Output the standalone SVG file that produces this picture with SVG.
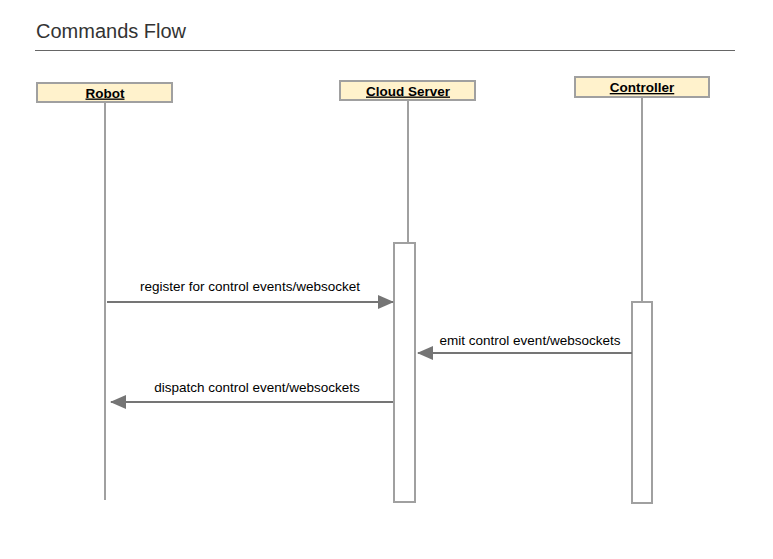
<svg xmlns="http://www.w3.org/2000/svg" width="773" height="559" viewBox="0 0 773 559">
<defs>
<style>
.hdr{fill:#fff2cc;stroke:#a0a0a0;stroke-width:2}
.hdrt{font-family:"Liberation Sans",Arial,sans-serif;font-size:13.5px;font-weight:bold;text-anchor:middle;text-decoration:underline;fill:#000}
.life{stroke:#a0a0a0;stroke-width:2;fill:none}
.act{fill:#fff;stroke:#a0a0a0;stroke-width:2}
.msg{stroke:#757575;stroke-width:2;fill:none}
.lbl{font-family:"Liberation Sans",Arial,sans-serif;font-size:13.5px;text-anchor:middle;fill:#000}
</style>
<marker id="ah2" markerWidth="16" markerHeight="14" refX="15" refY="7" orient="auto" markerUnits="userSpaceOnUse" viewBox="0 0 16 14">
<path d="M0,0 L16,7 L0,14 Z" fill="#757575"/>
</marker>
</defs>
<rect width="773" height="559" fill="#fff"/>
<g id="title">
<text x="36" y="38" font-family="'Liberation Sans',Arial,sans-serif" font-size="20" fill="#333">Commands Flow</text>
<line x1="35" y1="50.5" x2="735" y2="50.5" stroke="#666" stroke-width="1.2"/>
</g>
<g id="robot">
<line class="life" x1="105" y1="102" x2="105" y2="500"/>
<rect class="hdr" x="37" y="83" width="135" height="19"/>
<text class="hdrt" x="105" y="97.5">Robot</text>
</g>
<g id="cloud">
<line class="life" x1="408" y1="100" x2="408" y2="243"/>
<rect class="hdr" x="340" y="81" width="135" height="19"/>
<text class="hdrt" x="408" y="95.5">Cloud Server</text>
<rect class="act" x="394" y="243" width="21" height="259"/>
</g>
<g id="controller">
<line class="life" x1="642" y1="97" x2="642" y2="302"/>
<rect class="hdr" x="575" y="77" width="134" height="20"/>
<text class="hdrt" x="642" y="92">Controller</text>
<rect class="act" x="632" y="302" width="20" height="201"/>
</g>
<g id="connectors">
<line class="msg" x1="107" y1="302" x2="393" y2="302" marker-end="url(#ah2)"/>
<text class="lbl" x="250" y="290.5">register for control events/websocket</text>
<line class="msg" x1="632" y1="353" x2="418" y2="353" marker-end="url(#ah2)"/>
<text class="lbl" x="530" y="344.5">emit control event/websockets</text>
<line class="msg" x1="393" y1="402" x2="111" y2="402" marker-end="url(#ah2)"/>
<text class="lbl" x="257" y="391.5">dispatch control event/websockets</text>
</g>
</svg>
